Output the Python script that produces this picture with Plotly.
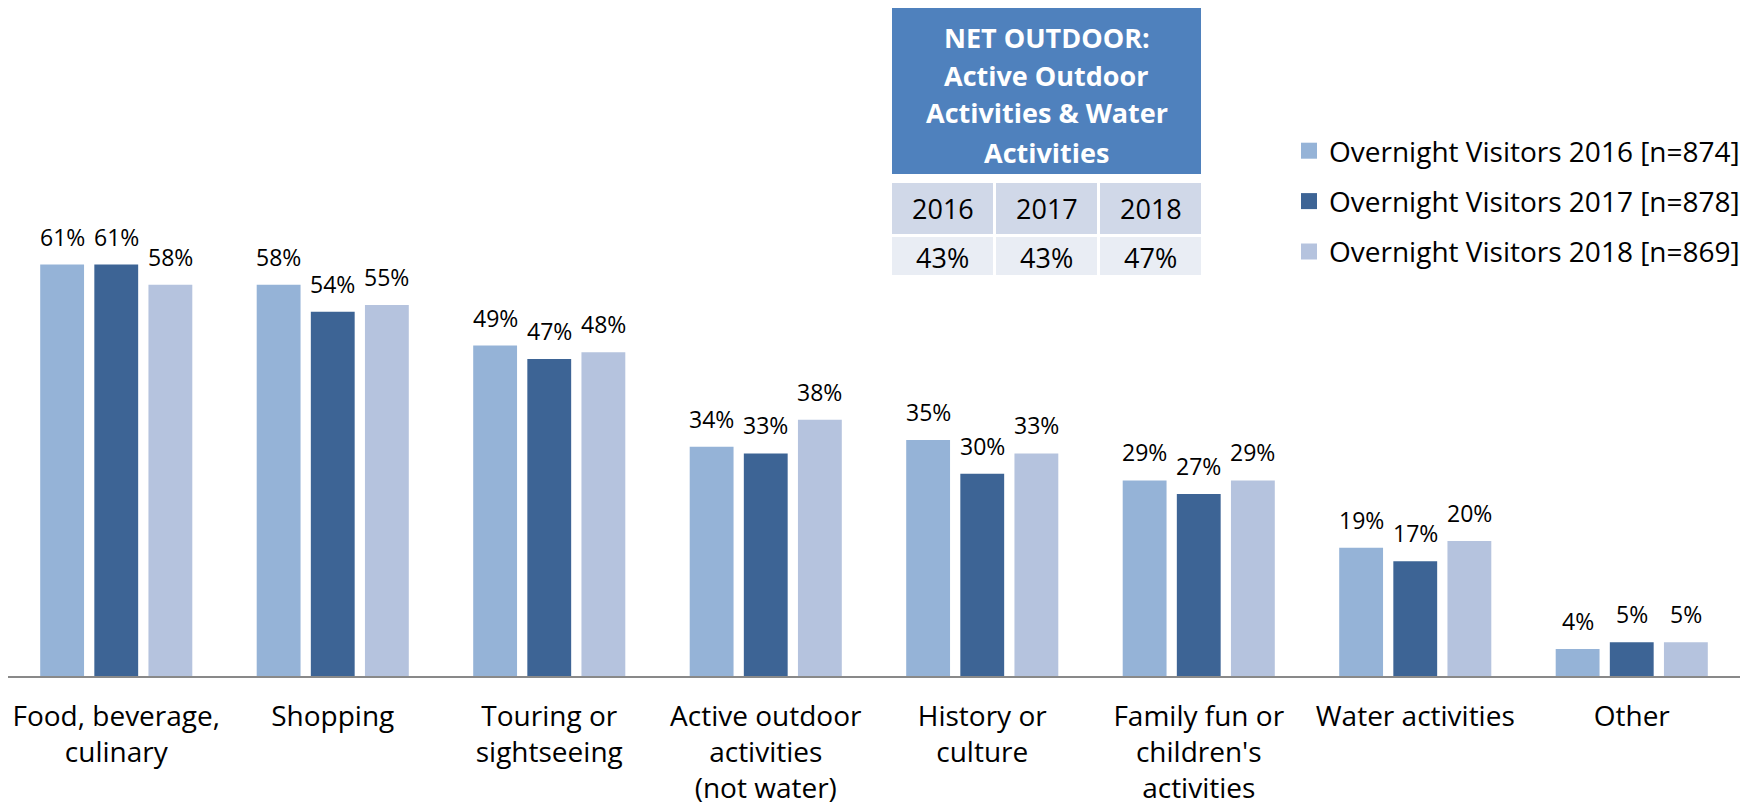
import plotly.graph_objects as go

categories = ["Food, beverage,<br>culinary", "Shopping", "Touring or<br>sightseeing",
              "Active outdoor<br>activities<br>(not water)", "History or<br>culture",
              "Family fun or<br>children's<br>activities", "Water activities", "Other"]
v2016 = [61, 58, 49, 34, 35, 29, 19, 4]
v2017 = [61, 54, 47, 33, 30, 27, 17, 5]
v2018 = [58, 55, 48, 38, 33, 29, 20, 5]
series_names = ["Overnight Visitors 2016 [n=874]", "Overnight Visitors 2017 [n=878]",
                "Overnight Visitors 2018 [n=869]"]
colors = ["#95B3D7", "#3D6495", "#B5C3DE"]

table_title_lines = ["NET OUTDOOR:", "Active Outdoor", "Activities & Water", "Activities"]
table_years = ["2016", "2017", "2018"]
table_values = [43, 43, 47]

# page body has an 8px default margin; figure is sized to fit the window
OFF = 8
W, H = 1756 - OFF, 812 - OFF
ML, MR, MT, MB = 0, 16, 61, 136
FONT = "Open Sans"
BAR_STEP = 54  # px between bars within a group

pw = W - ML - MR
ph = H - MT - MB
def px(x):  # screenshot px -> paper x
    return (x - OFF - ML) / pw
def py(y):  # screenshot px -> paper y
    return (H - MB - (y - OFF)) / ph

fig = go.Figure()
annotations = []
for i, (name, vals, col) in enumerate(zip(series_names, [v2016, v2017, v2018], colors)):
    fig.add_trace(go.Bar(
        x=categories, y=vals, name=name, marker=dict(color=col, line=dict(width=0)),
        showlegend=False, hoverinfo="x+y",
    ))
    for c, v in zip(categories, vals):
        annotations.append(dict(x=c, y=v, xref="x", yref="y", text=f"{v}%", showarrow=False,
                                xanchor="center", yanchor="bottom",
                                xshift=(i - 1) * BAR_STEP, yshift=10,
                                font=dict(family=FONT, size=23, color="#000000")))
for i, (name, col) in enumerate(zip(series_names, colors)):
    fig.add_trace(go.Scatter(
        x=[None], y=[None], mode="markers", name=name, legendgroup=str(i),
        marker=dict(symbol="square", size=18, color=col), showlegend=True,
    ))

shapes = []
# header
shapes.append(dict(type="rect", xref="paper", yref="paper", x0=px(892), x1=px(1201),
                   y0=py(174), y1=py(7), fillcolor="#4F81BD", line=dict(width=0), layer="above"))
for line, yc in zip(table_title_lines, [37, 75, 113, 152]):
    annotations.append(dict(xref="paper", yref="paper", x=px(1046.5), y=py(yc), text=line,
                            showarrow=False, xanchor="center", yanchor="middle",
                            font=dict(family=FONT, size=27, color="white", weight="bold")))
cols = [(892, 993), (996, 1097), (1100, 1201)]
for (x0, x1), yr, val in zip(cols, table_years, table_values):
    shapes.append(dict(type="rect", xref="paper", yref="paper", x0=px(x0), x1=px(x1),
                       y0=py(234), y1=py(183), fillcolor="#D0D8E8", line=dict(width=0), layer="above"))
    shapes.append(dict(type="rect", xref="paper", yref="paper", x0=px(x0), x1=px(x1),
                       y0=py(275), y1=py(237), fillcolor="#E9EDF4", line=dict(width=0), layer="above"))
    annotations.append(dict(xref="paper", yref="paper", x=px((x0 + x1) / 2), y=py(208.5), text=yr,
                            showarrow=False, xanchor="center", yanchor="middle",
                            font=dict(family=FONT, size=27, color="#000000")))
    annotations.append(dict(xref="paper", yref="paper", x=px((x0 + x1) / 2), y=py(257), text=f"{val}%",
                            showarrow=False, xanchor="center", yanchor="middle",
                            font=dict(family=FONT, size=27, color="#000000")))

fig.update_layout(
    width=W, height=H,
    margin=dict(l=ML, r=MR, t=MT, b=MB, pad=0),
    paper_bgcolor="white", plot_bgcolor="white",
    barmode="group", bargap=0.25, bargroupgap=0.19,
    font=dict(family=FONT, size=28, color="#000000"),
    xaxis=dict(showline=True, linecolor="#898989", linewidth=2, ticks="", showgrid=False,
               tickfont=dict(size=28, color="#000000", family=FONT), range=[-0.5, 7.5],
               ticklabelstandoff=14, automargin=False, fixedrange=True),
    yaxis=dict(range=[0, 90], visible=False, showgrid=False, zeroline=False, fixedrange=True),
    legend=dict(x=px(1289), y=py(126), xanchor="left", yanchor="top",
                font=dict(size=28, color="#000000", family=FONT),
                bgcolor="rgba(0,0,0,0)", tracegroupgap=11, traceorder="grouped",
                itemwidth=30),
    shapes=shapes, annotations=annotations,
)

fig.write_html("out.html")
